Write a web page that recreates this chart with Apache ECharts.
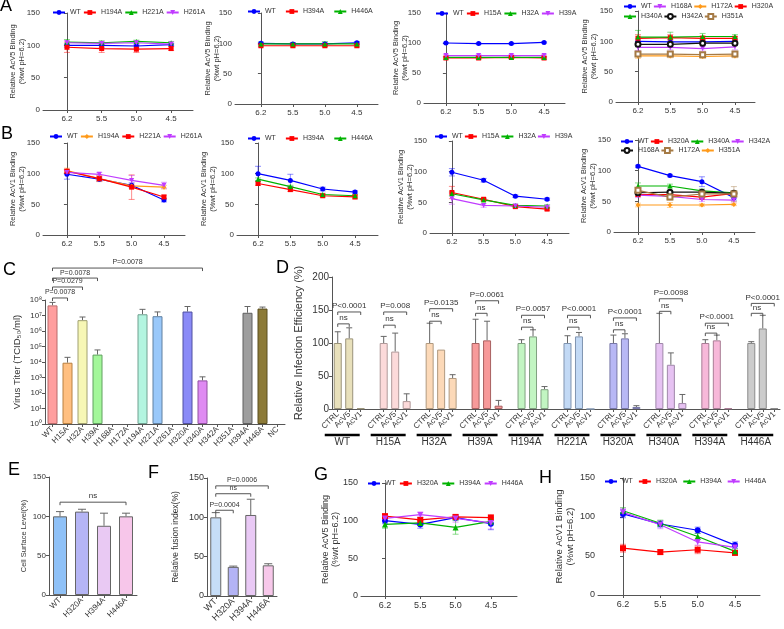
<!DOCTYPE html>
<html>
<head>
<meta charset="utf-8">
<title>AcV binding panels</title>
<script src="https://cdn.jsdelivr.net/npm/echarts@6/dist/echarts.min.js"></script>
<style>html,body{margin:0;padding:0;background:#fff;}</style>
</head>
<body>
<div id="main" style="width:784px;height:629px;"></div>
<script>
// ---------- data ----------
var ph = ['6.2', '5.5', '5.0', '4.5'];

// A: AcV5 binding
var a1Names = ['WT', 'H194A', 'H221A', 'H261A'];
var a1Mean = [[100, 100, 99, 101], [97, 95, 94, 95], [105, 104, 106, 104], [104, 103, 104, 102]];
var a1Sd = [[3, 3, 3, 2], [8, 6, 5, 3], [4, 3, 2, 2], [3, 3, 3, 2]];

var a2Names = ['WT', 'H394A', 'H446A'];
var a2Mean = [[100, 99, 99, 101], [96, 96, 96, 96], [99, 99, 99, 99]];
var a2Sd = [[2, 2, 2, 2], [2, 2, 2, 2], [3, 2, 4, 2]];

var a3Names = ['WT', 'H15A', 'H32A', 'H39A'];
var a3Mean = [[100, 99, 99, 101], [75, 75, 76, 75], [76, 76, 76, 76], [79, 79, 79, 79]];
var a3Sd = [[1, 1, 1, 1], [2, 2, 2, 2], [1, 1, 1, 1], [2, 2, 2, 2]];

var a4Names = ['WT', 'H168A', 'H172A', 'H320A', 'H340A', 'H342A', 'H351A'];
var a4Mean = [[100, 99, 99, 100], [90, 90, 88, 91], [76, 76, 75, 76], [105, 106, 105, 105],
              [107, 107, 108, 108], [95, 95, 97, 97], [79, 79, 78, 79]];
var a4Sd = [[4, 4, 3, 3], [5, 4, 4, 5], [4, 3, 3, 3], [6, 5, 4, 3], [11, 8, 5, 3], [4, 4, 3, 3], [4, 4, 3, 3]];

// B: AcV1 binding
var b1Names = ['WT', 'H194A', 'H221A', 'H261A'];
var b1Mean = [[99, 91, 81, 57], [105, 92, 80, 78], [104, 92, 78, 62], [102, 99, 89, 81]];
var b1Sd = [[8, 3, 4, 3], [4, 5, 3, 3], [3, 4, 20, 3], [3, 3, 8, 5]];

var b2Names = ['WT', 'H394A', 'H446A'];
var b2Mean = [[100, 89, 75, 70], [84, 74, 64, 62], [91, 79, 66, 64]];
var b2Sd = [[12, 10, 3, 2], [3, 3, 2, 3], [2, 2, 2, 2]];

var b3Names = ['WT', 'H15A', 'H32A', 'H39A'];
var b3Mean = [[99, 86, 60, 55], [66, 55, 43, 39], [64, 54, 45, 44], [56, 45, 44, 42]];
var b3Sd = [[6, 3, 2, 2], [10, 2, 2, 2], [3, 2, 2, 2], [9, 3, 2, 2]];

var b4Names = ['WT', 'H320A', 'H340A', 'H342A', 'H168A', 'H172A', 'H351A'];
var b4Mean = [[107, 92, 82, 56], [61, 61, 57, 63], [75, 75, 67, 64], [60, 58, 53, 52],
              [64, 65, 65, 63], [68, 57, 62, 62], [44, 44, 44, 45]];
var b4Sd = [[2, 2, 8, 4], [3, 3, 3, 3], [5, 3, 3, 3], [4, 3, 3, 3], [3, 3, 3, 3], [4, 5, 4, 12], [3, 4, 2, 2]];

// C: virus titer
var cCats = ['WT', 'H15A', 'H32A', 'H39A', 'H168A', 'H172A', 'H194A', 'H221A', 'H261A', 'H320A',
             'H340A', 'H342A', 'H351A', 'H394A', 'H446A', 'NC'];
var cTiter = [4.5e7, 9e3, 5e6, 3e4, null, null, 1.2e7, 9e6, null, 1.8e7, 650, null, null, 1.5e7, 2.8e7, null];
var cErrTop = [7e7, 2e4, 8e6, 6e4, null, null, 2.5e7, 1.7e7, null, 3.8e7, 1.1e3, null, null, 3.8e7, 3.5e7, null];
var cPairs = [[0, 1, 1.35e8], [0, 2, 6.9e8], [0, 3, 2.6e9], [0, 10, 1.15e10]];
var cPText = ['P=0.0078', 'P=0.0279', 'P=0.0078', 'P=0.0078'];

// D: infection efficiency
var dGroups = ['WT', 'H15A', 'H32A', 'H39A', 'H194A', 'H221A', 'H320A', 'H340A', 'H394A', 'H446A'];
var dTreat = ['CTRL', 'AcV5', 'AcV1'];
var dMean = [[100, 107, 1], [100, 87, 12], [100, 90, 47], [100, 104, 5], [100, 110, 30],
             [100, 110, 0], [100, 107, 3], [100, 67, 9], [100, 104, 1], [100, 122, 1]];
var dErrTop = [[117, 123, 1], [110, 115, 23], [130, 90, 52], [136, 133, 13], [105, 120, 34],
               [111, 116, 0], [112, 114, 5], [145, 85, 22], [105, 112, 1], [102, 142, 1]];
var dNs = [129, 127, 133, 145, 124, 124, 120, 148, 115, 145];
var dP = [147, 147, 152, 164, 142, 142, 138, 167, 130, 160];
var dPText = ['P<0.0001', 'P=0.008', 'P=0.0135', 'P=0.0061', 'P=0.0057', 'P<0.0001',
              'P<0.0001', 'P=0.0098', 'P<0.0001', 'P<0.0001'];

// E: cell surface level
var eCats = ['WT', 'H320A', 'H394A', 'H446A'];
var eMean = [100, 106, 88, 100];
var eErrTop = [106, 109, 104, 104];

// F: fusion index
var fCats = ['WT', 'H320A', 'H394A', 'H446A'];
var fMean = [100, 37, 103, 39];
var fErrTop = [106, 38, 123, 41];
var fPairs = [[0, 1, 109], [0, 2, 130], [0, 3, 140]];
var fPText = ['P=0.0004', 'ns', 'P=0.0006'];

// G / H
var ghNames = ['WT', 'H320A', 'H394A', 'H446A'];
var gMean = [[100, 95, 104, 96], [106, 101, 105, 104], [95, 97, 91, 99], [103, 108, 103, 97]];
var gSd = [[4, 5, 3, 8], [3, 3, 3, 4], [5, 3, 9, 3], [3, 3, 5, 8]];
var hMean = [[104, 91, 83, 64], [60, 55, 58, 54], [108, 92, 75, 56], [106, 90, 68, 61]];
var hSd = [[5, 4, 4, 4], [5, 3, 5, 3], [4, 4, 4, 3], [5, 5, 4, 4]];

// ---------- styles ----------
var FONT = '"Liberation Sans", Arial, sans-serif';
var AX = '#555';
var TX = '#333';
var COL = {blue: '#0000ff', red: '#ff0000', green: '#00b300', purple: '#c03cff',
           orange: '#ff9a1a', black: '#111111', tan: '#a57a45'};
var SYM = {circle: 'circle', rect: 'rect', tri: 'triangle', down: 'path://M0,0L10,0L5,9Z',
           diamond: 'diamond', ocircle: 'emptyCircle', orect: 'emptyRect'};
var V5 = 'Relative AcV5 Binding\n(%wt pH=6.2)';
var V1 = 'Relative AcV1 Binding\n(%wt pH=6.2)';

var cColors = ['#ff9e9e', '#ffbf80', '#f7f7b5', '#a3f79a', '#fff', '#fff', '#b3f5e0', '#99c8fa', '#fff',
               '#8a8af7', '#df8af2', '#fff', '#fff', '#9e9e9e', '#8c7a37', '#fff'];
var cBorders = ['#b86a6a', '#b88040', '#a0a070', '#60a060', '#888', '#888', '#70a090', '#6080a0', '#888',
                '#5050a0', '#9050a0', '#888', '#888', '#606060', '#5a4e20', '#888'];
var dColors = ['#e8e0bb', '#fcdada', '#fcd9b8', '#f79a9a', '#c2f5c2', '#c2d9f5', '#b8b8f5', '#e6c2f2', '#f7b8d9', '#cccccc'];
var dBorders = ['#9a937a', '#b09a9a', '#b09a80', '#a86060', '#80a080', '#8095b0', '#7878a8', '#a088aa', '#a87d95', '#8a8a8a'];
var eColors = ['#8fc1f7', '#b5b5f5', '#e9c9f3', '#f7c6ea'];
var fColors = ['#c6ddf7', '#b3b3f5', '#e9c9f5', '#f7c8ea'];

var linePanels = [
  {key: 'a1', names: a1Names, mean: a1Mean, sd: a1Sd, sty: [['blue', 'circle'], ['red', 'rect'], ['green', 'tri'], ['purple', 'down']],
   box: [43, 13, 150, 97], xr: [-0.69, 3.63], yname: V5, gap: 17, fs: 8, nfs: 7.5, ss: 5,
   legends: [{ids: [0, 1, 2, 3], left: 52, top: 9, gap: 2}]},
  {key: 'a2', names: a2Names, mean: a2Mean, sd: a2Sd, sty: [['blue', 'circle'], ['red', 'rect'], ['green', 'tri']],
   box: [235, 13, 143, 91], xr: [-0.81, 3.66], yname: V5, gap: 14, fs: 8, nfs: 7.5, ss: 5,
   legends: [{ids: [0, 1, 2], left: 247, top: 8, gap: 9}]},
  {key: 'a3', names: a3Names, mean: a3Mean, sd: a3Sd, sty: [['blue', 'circle'], ['red', 'rect'], ['green', 'tri'], ['purple', 'down']],
   box: [424, 13, 141, 90], xr: [-0.67, 3.64], yname: V5, gap: 15, fs: 8, nfs: 7.5, ss: 5,
   legends: [{ids: [0, 1, 2, 3], left: 435, top: 10, gap: 2}]},
  {key: 'a4', names: a4Names, mean: a4Mean, sd: a4Sd,
   sty: [['blue', 'circle'], ['purple', 'down'], ['orange', 'diamond'], ['red', 'rect'], ['green', 'tri'], ['black', 'ocircle'], ['tan', 'orect']],
   box: [616, 11, 139, 91], xr: [-0.68, 3.62], yname: V5, gap: 18, fs: 8, nfs: 7.5, ss: 5,
   legends: [{ids: [0, 1, 2, 3], left: 623, top: 3, gap: 1}, {ids: [4, 5, 6], left: 623, top: 13, gap: 1}]},
  {key: 'b1', names: b1Names, mean: b1Mean, sd: b1Sd, sty: [['blue', 'circle'], ['orange', 'diamond'], ['red', 'rect'], ['purple', 'down']],
   box: [43, 143, 142, 92], xr: [-0.74, 3.65], yname: V1, gap: 17, fs: 8, nfs: 7.5, ss: 5,
   legends: [{ids: [0, 1, 2, 3], left: 49, top: 133, gap: 2}]},
  {key: 'b2', names: b2Names, mean: b2Mean, sd: b2Sd, sty: [['blue', 'circle'], ['red', 'rect'], ['green', 'tri']],
   box: [237, 143, 141, 92], xr: [-0.65, 3.71], yname: V1, gap: 20, fs: 8, nfs: 7.5, ss: 5,
   legends: [{ids: [0, 1, 2], left: 247, top: 135, gap: 9}]},
  {key: 'b3', names: b3Names, mean: b3Mean, sd: b3Sd, sty: [['blue', 'circle'], ['red', 'rect'], ['green', 'tri'], ['purple', 'down']],
   box: [430, 141, 139, 92], xr: [-0.69, 3.69], yname: V1, gap: 16, fs: 8, nfs: 7.5, ss: 5,
   legends: [{ids: [0, 1, 2, 3], left: 434, top: 133, gap: 1}]},
  {key: 'b4', names: b4Names, mean: b4Mean, sd: b4Sd,
   sty: [['blue', 'circle'], ['red', 'rect'], ['green', 'tri'], ['purple', 'down'], ['black', 'ocircle'], ['tan', 'orect'], ['orange', 'diamond']],
   box: [614, 140, 141, 92], xr: [-0.75, 3.66], yname: V1, gap: 17, fs: 8, nfs: 7.5, ss: 5,
   legends: [{ids: [0, 1, 2, 3], left: 620, top: 138, gap: 1}, {ids: [4, 5, 6], left: 620, top: 147, gap: 1}]},
  {key: 'g', names: ghNames, mean: gMean, sd: gSd, sty: [['blue', 'circle'], ['red', 'rect'], ['green', 'tri'], ['purple', 'down']],
   box: [361, 483, 156, 113], xr: [-0.68, 3.74], yname: V5, gap: 20, fs: 9, nfs: 9, ss: 6,
   legends: [{ids: [0, 1, 2, 3], left: 367, top: 480, gap: 3}]},
  {key: 'h', names: ghNames, mean: hMean, sd: hSd, sty: [['blue', 'circle'], ['red', 'rect'], ['green', 'tri'], ['purple', 'down']],
   box: [598, 478, 162, 117], xr: [-0.67, 3.67], yname: V1, gap: 22, fs: 9, nfs: 9.5, ss: 6,
   legends: [{ids: [0, 1, 2, 3], left: 604, top: 478, gap: 5}]}
];

// ---------- builders ----------
var grids = [], xAxes = [], yAxes = [], series = [], legends = [];

function errLine(gi, data, color) {
  return {type: 'custom', xAxisIndex: gi, yAxisIndex: gi, silent: true, z: 2, encode: {x: 0, y: [1, 2]}, data: data,
    renderItem: function (params, api) {
      var lo = api.coord([api.value(0), api.value(1)]);
      var hi = api.coord([api.value(0), api.value(2)]);
      var st = {stroke: color, lineWidth: 1, opacity: 0.45};
      return {type: 'group', children: [
        {type: 'line', shape: {x1: lo[0], y1: lo[1], x2: hi[0], y2: hi[1]}, style: st},
        {type: 'line', shape: {x1: lo[0] - 3, y1: lo[1], x2: lo[0] + 3, y2: lo[1]}, style: st},
        {type: 'line', shape: {x1: hi[0] - 3, y1: hi[1], x2: hi[0] + 3, y2: hi[1]}, style: st}
      ]};
    }};
}

function errBar(gi, data, cap) {
  return {type: 'custom', xAxisIndex: gi, yAxisIndex: gi, silent: true, z: 1, encode: {x: 0, y: [1, 2]}, data: data,
    renderItem: function (params, api) {
      var lo = api.coord([api.value(0), api.value(1)]);
      var hi = api.coord([api.value(0), api.value(2)]);
      var st = {stroke: '#666', lineWidth: 1};
      return {type: 'group', children: [
        {type: 'line', shape: {x1: lo[0], y1: lo[1], x2: hi[0], y2: hi[1]}, style: st},
        {type: 'line', shape: {x1: hi[0] - cap, y1: hi[1], x2: hi[0] + cap, y2: hi[1]}, style: st}
      ]};
    }};
}

function brackets(gi, data, texts, fs) {
  return {type: 'custom', xAxisIndex: gi, yAxisIndex: gi, silent: true, z: 5, encode: {x: [0, 1], y: 2}, data: data,
    renderItem: function (params, api) {
      var y = api.value(2);
      var p1 = api.coord([api.value(0), y]);
      var p2 = api.coord([api.value(1), y]);
      return {type: 'group', children: [
        {type: 'polyline', shape: {points: [[p1[0], p1[1] + 3], [p1[0], p1[1]], [p2[0], p2[1]], [p2[0], p2[1] + 3]]},
         style: {stroke: '#555', lineWidth: 1, fill: null}},
        {type: 'text', style: {text: texts[params.dataIndex], x: (p1[0] + p2[0]) / 2, y: p1[1] - 2,
         align: 'center', verticalAlign: 'bottom', fontSize: fs, fill: TX, fontFamily: FONT}}
      ]};
    }};
}

function baseY(gi, min, max, interval, fs, name, gap, nfs) {
  return {gridIndex: gi, type: 'value', min: min, max: max, interval: interval, splitLine: {show: false},
    axisLine: {show: true, lineStyle: {color: AX}}, axisTick: {show: true, length: 3, lineStyle: {color: AX}},
    axisLabel: {fontSize: fs, color: TX, fontFamily: FONT, margin: 3},
    name: name, nameLocation: 'middle', nameGap: gap, nameMoveOverlap: false,
    nameTextStyle: {fontSize: nfs, lineHeight: nfs + 1.5, color: TX, fontFamily: FONT}};
}

function catX(gi, cats, fs, rotate) {
  return {gridIndex: gi, type: 'category', data: cats, splitLine: {show: false},
    axisLine: {show: true, lineStyle: {color: AX}},
    axisTick: {show: true, alignWithLabel: true, length: 3, lineStyle: {color: AX}},
    axisLabel: {interval: 0, rotate: rotate, fontSize: fs, color: TX, fontFamily: FONT, margin: 4,
      formatter: function (v) { return v.split('|')[0]; }}};
}

linePanels.forEach(function (p) {
  var gi = grids.length;
  grids.push({left: p.box[0], top: p.box[1], width: p.box[2], height: p.box[3]});
  xAxes.push({gridIndex: gi, type: 'value', min: p.xr[0], max: p.xr[1], splitLine: {show: false},
    axisLine: {show: true, onZero: false, lineStyle: {color: AX}},
    axisTick: {show: true, customValues: [0, 1, 2, 3], length: 3, lineStyle: {color: AX}},
    axisLabel: {customValues: [0, 1, 2, 3], fontSize: p.fs, color: TX, fontFamily: FONT, margin: 5,
      formatter: function (v) { return ph[Math.round(v)]; }}});
  yAxes.push(baseY(gi, 0, 150, 50, p.fs, p.yname, p.gap, p.nfs));
  p.names.forEach(function (n, i) {
    var col = COL[p.sty[i][0]];
    series.push({type: 'line', name: n + '|' + p.key, xAxisIndex: gi, yAxisIndex: gi, z: 3,
      data: p.mean[i].map(function (v, j) { return [j, v]; }),
      color: col, symbol: SYM[p.sty[i][1]], symbolSize: p.ss, lineStyle: {width: 1.2, color: col},
      itemStyle: {color: col}});
    series.push(errLine(gi, p.mean[i].map(function (v, j) { return [j, v - p.sd[i][j], v + p.sd[i][j]]; }), col));
  });
  p.legends.forEach(function (lg) {
    legends.push({data: lg.ids.map(function (i) { return p.names[i] + '|' + p.key; }),
      left: lg.left, top: lg.top, itemWidth: 12, itemHeight: 6, itemGap: lg.gap, padding: 0,
      selectedMode: false, orient: 'horizontal',
      textStyle: {fontSize: 7, color: TX, fontFamily: FONT},
      formatter: function (n) { return n.split('|')[0]; }});
  });
});

// C panel
(function () {
  var gi = grids.length;
  var sup = ['\u2070', '\u00b9', '\u00b2', '\u00b3', '\u2074', '\u2075', '\u2076', '\u2077', '\u2078'];
  grids.push({left: 45, top: 300, width: 240, height: 124});
  xAxes.push(catX(gi, cCats, 8, 45));
  yAxes.push({gridIndex: gi, type: 'log', logBase: 10, min: 1, max: 1e8, interval: 1, splitLine: {show: false},
    axisLine: {show: true, lineStyle: {color: AX}}, axisTick: {show: true, length: 3, lineStyle: {color: AX}},
    minorTick: {show: false},
    axisLabel: {fontSize: 8, color: TX, fontFamily: FONT, margin: 3,
      formatter: function (v) { return '10' + sup[Math.round(Math.log10(v))]; }},
    name: 'Virus Titer (TCID\u2085\u2080/ml)', nameLocation: 'middle', nameGap: 23, nameMoveOverlap: false,
    nameTextStyle: {fontSize: 9.5, color: TX, fontFamily: FONT}});
  series.push({type: 'bar', xAxisIndex: gi, yAxisIndex: gi, barWidth: 10, z: 2,
    data: cTiter.map(function (v, i) {
      return v == null ? '-' : {value: v, itemStyle: {color: cColors[i], borderColor: cBorders[i], borderWidth: 1}};
    })});
  var ed = [];
  cTiter.forEach(function (v, i) { if (v != null) ed.push([i, v, cErrTop[i]]); });
  series.push(errBar(gi, ed, 3));
  series.push(brackets(gi, cPairs, cPText, 7));
})();

// D panel
(function () {
  var gi = grids.length;
  var cats = [], bars = [], ed = [], br = [], brText = [], under = [];
  dGroups.forEach(function (g, k) {
    var base = k * 4;
    dTreat.forEach(function (t, ti) {
      cats.push(t + '|' + g);
      bars.push({value: dMean[k][ti], itemStyle: {color: dColors[k], borderColor: dBorders[k], borderWidth: 1}});
      if (dErrTop[k][ti] > dMean[k][ti]) ed.push([base + ti, dMean[k][ti], dErrTop[k][ti]]);
    });
    if (k < dGroups.length - 1) { cats.push(''); bars.push('-'); }
    br.push([base, base + 1, dNs[k]]); brText.push('ns');
    br.push([base, base + 2, dP[k]]); brText.push(dPText[k]);
    under.push([base, base + 2]);
  });
  grids.push({left: 332, top: 277, width: 448, height: 132});
  var xa = catX(gi, cats, 8, 45);
  xa.axisTick.interval = function (idx, v) { return v !== ''; };
  xAxes.push(xa);
  yAxes.push(baseY(gi, 0, 200, 50, 10, 'Relative Infection Efficiency (%)', 27, 11));
  series.push({type: 'bar', xAxisIndex: gi, yAxisIndex: gi, barWidth: 8, z: 2, data: bars});
  series.push(errBar(gi, ed, 3));
  series.push(brackets(gi, br, brText, 8));
  series.push({type: 'custom', xAxisIndex: gi, yAxisIndex: gi, silent: true, encode: {x: [0, 1]}, data: under,
    renderItem: function (params, api) {
      var p1 = api.coord([api.value(0), 0]);
      var p2 = api.coord([api.value(1), 0]);
      var y = p1[1] + 26;
      return {type: 'group', children: [
        {type: 'line', shape: {x1: p1[0] - 13, y1: y, x2: p2[0] - 1, y2: y}, style: {stroke: '#000', lineWidth: 2.5}},
        {type: 'text', style: {text: dGroups[params.dataIndex], x: (p1[0] + p2[0]) / 2 - 7, y: y + 2,
          align: 'center', verticalAlign: 'top', fontSize: 10, fill: TX, fontFamily: FONT}}
      ]};
    }});
})();

// E panel
(function () {
  var gi = grids.length;
  grids.push({left: 49, top: 477, width: 88, height: 118});
  xAxes.push(catX(gi, eCats, 8, 45));
  yAxes.push(baseY(gi, 0, 150, 50, 8, 'Cell Surface Level(%)', 21, 7.5));
  series.push({type: 'bar', xAxisIndex: gi, yAxisIndex: gi, barWidth: 14, z: 2,
    data: eMean.map(function (v, i) { return {value: v, itemStyle: {color: eColors[i], borderColor: '#666', borderWidth: 1}}; })});
  series.push(errBar(gi, eMean.map(function (v, i) { return [i, v, eErrTop[i]]; }), 4));
  series.push(brackets(gi, [[0, 3, 118]], ['ns'], 8));
})();

// F panel
(function () {
  var gi = grids.length;
  grids.push({left: 207, top: 478, width: 70, height: 118});
  xAxes.push(catX(gi, fCats, 9, 45));
  yAxes.push(baseY(gi, 0, 150, 50, 9, 'Relative fusion index(%)', 26, 8.5));
  series.push({type: 'bar', xAxisIndex: gi, yAxisIndex: gi, barWidth: 11, z: 2,
    data: fMean.map(function (v, i) { return {value: v, itemStyle: {color: fColors[i], borderColor: '#666', borderWidth: 1}}; })});
  series.push(errBar(gi, fMean.map(function (v, i) { return [i, v, fErrTop[i]]; }), 4));
  series.push(brackets(gi, fPairs, fPText, 7));
})();

var letters = [['A', 0, -3], ['B', 1, 125], ['C', 3, 261], ['D', 276, 259], ['E', 8, 461],
               ['F', 148, 464], ['G', 314, 466], ['H', 539, 469]];

var option = {
  animation: false,
  grid: grids,
  xAxis: xAxes,
  yAxis: yAxes,
  legend: legends,
  series: series,
  graphic: letters.map(function (l) {
    return {type: 'text', left: l[1], top: l[2], silent: true,
      style: {text: l[0], fontSize: 18, fill: '#000', fontFamily: FONT}};
  })
};

var chart = echarts.init(document.getElementById('main'));
chart.setOption(option);
</script>
</body>
</html>
